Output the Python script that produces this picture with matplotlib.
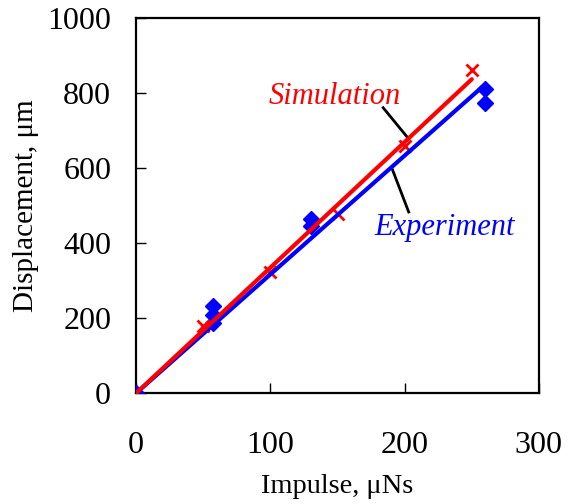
import numpy as np
import matplotlib
matplotlib.use("Agg")
import matplotlib.pyplot as plt

plt.rcParams['font.family'] = ['Liberation Serif', 'DejaVu Serif']

# simulation (red x)
sim_x = [0, 50, 100, 150, 200, 250]
sim_y = [0, 180, 322, 478, 660, 862]

# experiment (blue diamonds)
exp_x = [0, 57, 57, 57, 130, 130, 260, 260]
exp_y = [0, 188, 208, 232, 445, 465, 775, 810]

x_ticks = [0, 100, 200, 300]
y_ticks = [0, 200, 400, 600, 800, 1000]

fig = plt.figure(figsize=(5.77, 5.04), dpi=100)
ax = fig.add_axes([0.236, 0.220, 0.698, 0.744])

# trend lines through origin
sx = np.array(sim_x, float); sy = np.array(sim_y, float)
ex = np.array(exp_x, float); ey = np.array(exp_y, float)
k_sim = (sx * sy).sum() / (sx * sx).sum()
k_exp = (ex * ey).sum() / (ex * ex).sum()

ax.plot(ex, ey, linestyle='none', marker='D', color='#0000ff', markersize=8, zorder=3)
ax.plot(sx, sy, linestyle='none', marker='x', color='#ff0000', markersize=8, mew=2, zorder=4)
ax.plot([0, 258], [0, k_exp * 258], color='#0000ff', lw=3, zorder=5, solid_capstyle='round')
ax.plot([0, 250], [0, k_sim * 250], color='#ff0000', lw=3, zorder=6, solid_capstyle='round')

ax.set_xlim(0, 300)
ax.set_ylim(0, 1000)
ax.set_xticks(x_ticks)
ax.set_yticks(y_ticks)
ax.tick_params(direction='in', length=7, width=1, labelsize=23,
               top=False, right=False)
ax.tick_params(axis='y', pad=18)
ax.tick_params(axis='x', pad=27)
for s in ax.spines.values():
    s.set_linewidth(1.6)

ax.set_xlabel('Impulse, μNs', fontsize=20.5, labelpad=10)
ax.set_ylabel('Displacement, μm', fontsize=21, labelpad=6)

ax.text(148, 792, 'Simulation', color='#ff0000', style='italic',
        fontsize=22, ha='center', va='center')
ax.plot([184, 203], [761, 678], color='black', lw=2)
ax.text(230, 442, 'Experiment', color='#0000ff', style='italic',
        fontsize=22, ha='center', va='center')
ax.plot([191, 203], [595, 483], color='black', lw=2)

fig.savefig('out.png', dpi=100)
